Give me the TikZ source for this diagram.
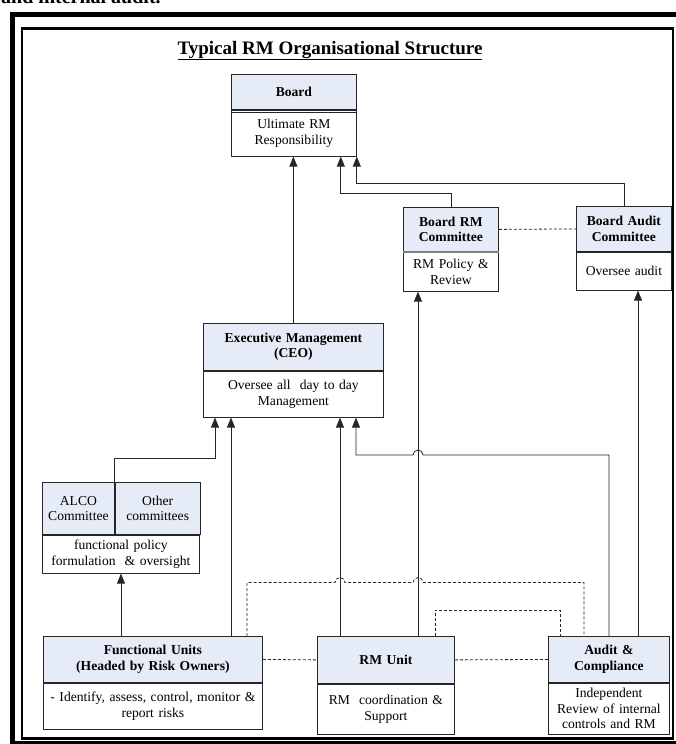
\documentclass[tikz,border=0pt]{standalone}
\usepackage{fontspec}
\setmainfont{Liberation Serif}
\usetikzlibrary{arrows.meta,positioning}
\definecolor{RMHead}{HTML}{E6ECF7}
\definecolor{RMLine}{HTML}{262626}

\begin{document}
\begin{tikzpicture}[
 x=1pt,y=-1pt,
 font=\fontsize{13.6}{15.4}\selectfont,
 head/.style={draw=RMLine,line width=.8pt,fill=RMHead,inner sep=0pt,align=center,anchor=north west,font=\fontsize{13.6}{15.4}\selectfont\bfseries},
 cell/.style={head,font=\fontsize{13.6}{15.4}\selectfont},
 body/.style={draw=RMLine,line width=.8pt,fill=white,inner sep=0pt,align=center},
 arrow/.style={-{Triangle[length=10pt,width=8pt]},line width=.8pt,color=RMLine},
 link/.style={line width=.8pt,color=RMLine,dash pattern=on 3pt off 2pt},
 divider/.style={line width=2.2pt,color=RMLine}
]
\useasboundingbox (0,0) rectangle (676,744);
\fill[white] (0,0) rectangle (676,744);
\node[font=\fontsize{20}{22}\selectfont\bfseries,anchor=base west,inner sep=0pt] (prev) at (1,4) {and internal audit.};
\draw[line width=5pt] (12,14.5) rectangle (690,743);
\draw[line width=2.5pt] (22,28.5) rectangle (673,738.5);
\node[font=\fontsize{19}{22}\selectfont\bfseries,anchor=base] (title) at (330,54) {\underline{Typical RM Organisational Structure}};

% Board
\node[head,text width=125pt,minimum height=35pt] (bh) at (231,74) {Board};
\node[body,text width=125pt,minimum height=46pt,below=0pt of bh] (bb) {Ultimate RM\\Responsibility};
\draw[line width=.8pt,RMLine] ([yshift=-2.6pt]bh.south west) -- ([yshift=-2.6pt]bh.south east);

% board committees
\node[head,text width=95pt,minimum height=44pt] (brh) at (403,207) {Board RM\\Committee};
\node[body,text width=95pt,minimum height=39pt,below=0pt of brh] (brb) {RM Policy \&\\Review};
\draw[divider,gray] (brh.south west) -- (brh.south east);
\node[head,text width=95pt,minimum height=45pt] (bah) at (576,206) {Board Audit\\Committee};
\node[body,text width=95pt,minimum height=38pt,below=0pt of bah] (bab) {Oversee audit};

% Executive
\node[head,text width=180pt,minimum height=47pt] (eh) at (203,323) {Executive Management\\(CEO)};
\node[body,text width=180pt,minimum height=46pt,below=0pt of eh] (eb) {Oversee all\ \ day to day\\Management};

% ALCO and other committees
\node[cell,text width=72pt,minimum height=52pt] (alh) at (42,482) {ALCO\\Committee};
\node[cell,text width=85pt,minimum height=52pt,anchor=north west] (oth) at (alh.north east) {Other\\committees};
\node[body,text width=157pt,minimum height=38pt,below right=0pt of alh.south west] (alb) {functional policy\\formulation\ \ \& oversight};

% units
\node[head,text width=219pt,minimum height=46pt] (fh) at (43,636) {Functional Units\\(Headed by Risk Owners)};
\node[body,text width=219pt,minimum height=46pt,below=0pt of fh] (fb) {- Identify, assess, control, monitor \&\\report risks};
\draw[divider] (fh.south west) -- (fh.south east);
\node[head,text width=137pt,minimum height=47pt] (ruh) at (317,636) {RM Unit};
\node[body,text width=137pt,minimum height=50pt,below=0pt of ruh] (rub) {RM\ \ coordination \&\\Support};
\draw[divider] (ruh.south west) -- (ruh.south east);
\node[head,text width=121pt,minimum height=46pt] (ah) at (548,636) {Audit \&\\Compliance};
\node[body,text width=121pt,minimum height=51pt,below=0pt of ah] (ab) {Independent\\Review of internal\\controls and RM};

% reporting lines
\draw[arrow] (eh.north) -- (eh.north |- bb.south);
\draw[arrow] (brh.north) -- ++(0,-14) -| ([xshift=-16pt]bb.south east);
\draw[arrow] (bah.north) -- ++(0,-23) -| (bb.south east);
\draw[arrow] ([xshift=101pt]ruh.north west) -- ([xshift=15pt]brb.south west);
\draw[arrow] ([xshift=90pt]ah.north west) -- ([xshift=62pt]bab.south west);
\draw[arrow] (alh.north east) -- ++(0,-24) -| ([xshift=12pt]eb.south west);
\draw[arrow] ([xshift=188pt]fh.north west) -- ([xshift=28pt]eb.south west);
\draw[arrow] ([xshift=23pt]ruh.north west) -- ([xshift=137pt]eb.south west);
\coordinate (jmp) at (418,455);
\draw[arrow] ([xshift=61pt]ah.north west) |- ([xshift=5pt]jmp) arc[start angle=0,end angle=180,radius=5pt] -| ([xshift=153pt]eb.south west);
\draw[arrow] ([xshift=78pt]fh.north west) -- ([xshift=79pt]alb.south west);

% coordination links
\draw[link] (brh.east) -- (bah.west);
\draw[link] (fh.east) -- (ruh.west);
\draw[link] (ruh.east) -- (ah.west);
\coordinate (d1) at (340,582.5);
\coordinate (d2) at (418,582.5);
\draw[link] ([xshift=204pt]fh.north west) |- ([xshift=-5pt]d1) arc[start angle=180,end angle=0,radius=5pt] -- ([xshift=-5pt]d2) arc[start angle=180,end angle=0,radius=5pt] -| ([xshift=36pt]ah.north west);
\draw[link] ([xshift=118pt]ruh.north west) -- ++(0,-26) -| ([xshift=12pt]ah.north west);
\end{tikzpicture}
\end{document}
